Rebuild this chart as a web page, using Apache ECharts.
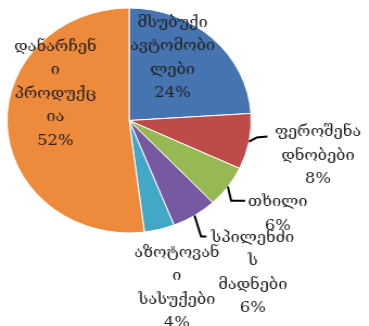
<!DOCTYPE html>
<html>
<head>
<meta charset="utf-8">
<script src="https://cdn.jsdelivr.net/npm/echarts@6/dist/echarts.min.js"></script>
<style>
html, body { margin: 0; padding: 0; background: #fff; overflow: hidden; }
#wrap { width: 369px; height: 326px; overflow: hidden; }
/* the source picture is a bit wider than tall, so stretch the whole chart */
#myChart { width: 340px; height: 326px; transform: scaleX(1.085); transform-origin: 0 0; }
</style>
</head>
<body>
<div id="wrap"><div id="myChart"></div></div>
<script>
var categories = ['მსუბუქი\nავტომობი\nლები', 'ფეროშენა\nდნობები', 'თხილი', 'სპილენძი\nს\nმადნები', 'აზოტოვან\nი\nსასუქები', 'დანარჩენ\nი\nპროდუქც\nია'];
var shares = [24, 8, 6, 6, 4, 52];
var colors = ['#4674B0', '#BE4B48', '#97B954', '#7659A0', '#42A8C6', '#EE8A3C'];

var cx = 119, cy = 120.5, r = 112.5;
// label block centres (chart px, before the stretch)
var labelAt = [[159, 58], [293, 156], [256, 214], [233, 273], [163, 288], [51, 94]];
// leader bends, relative to the rim point
var leader = [null, [[7, -4], [17, -5]], [[3, 14], [16, 14]], [[6, 21], [11, 21]], null, null];

var total = 0;
for (var k = 0; k < shares.length; k++) total += shares[k];

// point on the rim in the middle of slice idx
function rimPoint(idx) {
    var before = 0;
    for (var n = 0; n < idx; n++) before += shares[n];
    var a = (90 - 360 * (before + shares[idx] / 2) / total) * Math.PI / 180;
    return [cx + r * Math.cos(a), cy - r * Math.sin(a)];
}

var pieData = [];
var extras = [];
for (var i = 0; i < shares.length; i++) {
    pieData.push({
        name: categories[i],
        value: shares[i],
        itemStyle: { color: colors[i] }
    });
    extras.push({
        type: 'text',
        x: labelAt[i][0],
        y: labelAt[i][1],
        z: 100,
        style: {
            text: categories[i] + '\n' + shares[i] + '%',
            fontFamily: "'DejaVu Serif', 'DejaVu Sans', serif",
            fontSize: 15,
            lineHeight: 23.5,
            fill: '#222',
            align: 'center',
            verticalAlign: 'middle'
        }
    });
    if (leader[i]) {
        var p0 = rimPoint(i);
        var pts = [p0];
        for (var j = 0; j < leader[i].length; j++) {
            pts.push([p0[0] + leader[i][j][0], p0[1] + leader[i][j][1]]);
        }
        extras.push({
            type: 'polyline',
            z: 100,
            shape: { points: pts },
            style: { stroke: '#000', lineWidth: 2 }
        });
    }
}

var myChart = echarts.init(document.querySelector('#myChart'));
var option = {
    animation: false,
    graphic: extras,
    series: [{
        type: 'pie',
        center: [cx, cy],
        radius: r,
        startAngle: 90,
        clockwise: true,
        itemStyle: { borderColor: '#fff', borderWidth: 1 },
        label: { show: false },
        labelLine: { show: false },
        data: pieData
    }]
};
myChart.setOption(option);
</script>
</body>
</html>
